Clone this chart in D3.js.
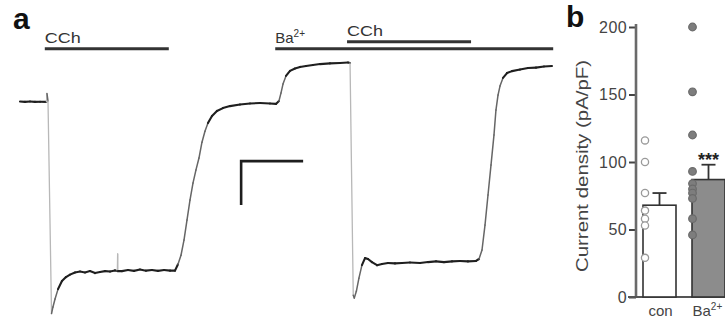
<!DOCTYPE html>
<html>
<head>
<meta charset="utf-8">
<script src="https://cdn.jsdelivr.net/npm/d3@7"></script>
<style>
  body { margin: 0; background: #fff; }
  svg { display: block; font-family: Arial, "Liberation Sans", Helvetica, sans-serif; }
</style>
</head>
<body>
<svg id="chart" width="725" height="322"></svg>
<script>
// panel a: whole-cell current trace, time (s) vs current (pA)
const traceTime = [0, 4.8, 9.7, 14.5, 19.4, 25.6, 26.1, 27.1,
  30.5, 31.9, 33.9, 36.8, 40.6, 44.5, 48.4, 53.2, 58.1, 62.9, 67.7, 72.6, 77.4, 82.3, 87.1, 91.9,
  94.2, 94.5, 94.7, 98.7, 104.5, 110.3, 116.1, 121.9, 127.7, 133.5, 139.4, 145.2, 150,
  152.9, 155.8, 158.7, 161.6, 164.5, 167.4, 170.3, 173.2, 176.1, 179, 181.9, 185.8, 190.6, 196.4,
  203.2, 212.9, 222.6, 232.3, 241.9, 247.7,
  250.6, 252.6, 254.5, 257.4, 261.3, 266.1, 271, 276.8, 283.5, 290.3, 300, 309.7, 317.4, 319.4,
  322.5, 323.5, 325.5, 328, 330.9, 333.9, 336.8, 340.6, 345.5, 350.3, 356.1, 362.9, 369.7, 377.4,
  387.1, 394.8, 402.6, 410.3, 418.1, 425.8, 433.5, 441.3, 444.2,
  447.1, 450, 452.9, 455.8, 458.7, 460.6, 462.6, 464.5, 467.4, 471.3, 476.1, 483.9, 491.6, 499.4,
  507.1, 514.8];
const traceCurrent = [1, -1, 1, -1, 0, -1, 37, 3,
  -963, -933, -897, -852, -815, -797, -786, -776, -772, -776, -770, -779, -774, -770, -772, -767,
  -770, -692, -770, -770, -765, -769, -763, -768, -765, -769, -765, -768, -768,
  -739, -698, -629, -538, -447, -370, -310, -256, -184, -134, -97, -65, -42, -29,
  -20, -13, -8, -6, -8, -10,
  3, 40, 80, 117, 140, 151, 158, 162, 167, 171, 174, 176, 178, 176,
  -880, -892, -862, -802, -743, -711, -715, -729, -743, -738, -733, -735, -733, -731,
  -733, -729, -726, -729, -726, -724, -726, -724, -715,
  -674, -561, -424, -288, -151, -38, 30, 71, 108, 130, 139, 146, 153, 155,
  160, 162];

// drug applications (s)
const drugNames = ["CCh", "Ba", "CCh"];
const drugStart = [24, 247, 316.5];
const drugEnd = [144, 516, 436.5];
const drugRow = [0, 0, 1];

// scale bar: 60 s, 200 pA
const scaleBarTime = 60, scaleBarCurrent = 200;

// panel b: current density (pA/pF)
const groups = ["con", "Ba"];
const groupMean = [68, 87];
const groupSem = [9, 11];
const conPoints = [116, 100, 77, 64, 58, 53, 29];
const baPoints = [200, 152, 120, 93, 84, 80, 77, 73, 58, 46];
const yTicks = [0, 50, 100, 150, 200];

const svg = d3.select("#chart");
svg.append("rect").attr("width", 725).attr("height", 322).attr("fill", "#fff");

// ---------- panel a ----------
const x = d3.scaleLinear().domain([0, 520]).range([20, 20 + 520 * 62 / 60]);
const y = d3.scaleLinear().domain([0, -200]).range([101.7, 145.7]);

svg.append("text").attr("x", 13).attr("y", 28.5)
  .attr("font-size", 30).attr("font-weight", "bold").attr("fill", "#111").text("a");

const trace = traceTime.map((t, i) => [x(t), y(traceCurrent[i])]);
const ga = svg.append("g").attr("stroke-linecap", "round").attr("stroke-linejoin", "round");
for (let i = 1; i < trace.length; i++) {
  const [x0, y0] = trace[i - 1], [x1, y1] = trace[i];
  const slope = Math.abs(y1 - y0) / Math.max(Math.abs(x1 - x0), 0.01);
  let col = "#1f1f1f", w = 2.1;
  if (slope > 15) { col = "#b8b8b8"; w = 1.3; }
  else if (slope > 2.5) { col = "#666"; w = 1.5; }
  ga.append("line").attr("x1", x0).attr("y1", y0).attr("x2", x1).attr("y2", y1)
    .attr("stroke", col).attr("stroke-width", w);
}

// drug bars
const rowY = [48.7, 41.7];
drugNames.forEach((name, i) => {
  svg.append("line")
    .attr("x1", x(drugStart[i])).attr("x2", x(drugEnd[i]))
    .attr("y1", rowY[drugRow[i]]).attr("y2", rowY[drugRow[i]])
    .attr("stroke", "#333").attr("stroke-width", 3);
  const t = svg.append("text")
    .attr("x", x(drugStart[i]))
    .attr("y", rowY[drugRow[i]] - 5.5)
    .attr("font-size", 15).attr("fill", "#333");
  if (name === "Ba") {
    t.append("tspan").text("Ba");
    t.append("tspan").attr("dy", -6).attr("font-size", 10).text("2+");
  } else {
    t.attr("textLength", 36).attr("lengthAdjust", "spacingAndGlyphs").text(name);
  }
});

// scale bar
const sbT = 214, sbI = -270;
svg.append("path")
  .attr("d", `M${x(sbT + scaleBarTime)},${y(sbI)}H${x(sbT)}V${y(sbI - scaleBarCurrent)}`)
  .attr("fill", "none").attr("stroke", "#1e1e1e").attr("stroke-width", 2.6);

// ---------- panel b ----------
svg.append("text").attr("x", 566).attr("y", 26.5)
  .attr("font-size", 30).attr("font-weight", "bold").attr("fill", "#111").text("b");

const yb = d3.scaleLinear().domain([0, 200]).range([297, 27]);
const xb = d3.scaleBand().domain(groups).range([643, 725]).paddingInner(16 / 49).paddingOuter(0);

const axis = svg.append("g").attr("transform", "translate(636,0)")
  .call(d3.axisLeft(yb).tickValues(yTicks).tickSize(7).tickPadding(2).tickSizeOuter(0));
axis.select(".domain").remove();
axis.selectAll(".tick line").attr("stroke", "#444").attr("stroke-width", 2);
axis.selectAll(".tick text").attr("font-size", 16).attr("fill", "#444")
  .attr("font-family", "Arial, 'Liberation Sans', sans-serif").attr("letter-spacing", 0.4);

svg.append("line").attr("x1", 636).attr("x2", 636).attr("y1", yb(200) - 3).attr("y2", yb(0) + 1)
  .attr("stroke", "#6a6a6a").attr("stroke-width", 2.6);
svg.append("line").attr("x1", 628).attr("x2", 725).attr("y1", yb(0)).attr("y2", yb(0))
  .attr("stroke", "#555").attr("stroke-width", 2.2);

svg.append("text")
  .attr("transform", `translate(588,${(yb(0) + yb(200)) / 2 + 4}) rotate(-90)`)
  .attr("text-anchor", "middle").attr("font-size", 16).attr("fill", "#444")
  .attr("textLength", 212).attr("lengthAdjust", "spacingAndGlyphs")
  .text("Current density (pA/pF)");

const barFill = ["#ffffff", "#8c8c8c"];
groups.forEach((g, i) => {
  const bx = xb(g), bw = xb.bandwidth(), cx = bx + bw / 2;
  // error bar
  svg.append("line").attr("x1", cx).attr("x2", cx)
    .attr("y1", yb(groupMean[i])).attr("y2", yb(groupMean[i] + groupSem[i]))
    .attr("stroke", "#333").attr("stroke-width", 1.8);
  svg.append("line").attr("x1", cx - 7).attr("x2", cx + 7)
    .attr("y1", yb(groupMean[i] + groupSem[i])).attr("y2", yb(groupMean[i] + groupSem[i]))
    .attr("stroke", "#333").attr("stroke-width", 1.8);
  svg.append("rect")
    .attr("x", bx).attr("width", bw)
    .attr("y", yb(groupMean[i])).attr("height", yb(0) - yb(groupMean[i]))
    .attr("fill", barFill[i]).attr("stroke", "#333").attr("stroke-width", 1.6);
});

svg.selectAll(".con").data(conPoints).enter().append("circle")
  .attr("cx", xb("con") + 2).attr("cy", d => yb(d)).attr("r", 3.6)
  .attr("fill", "#fff").attr("stroke", "#9a9a9a").attr("stroke-width", 1.3);
svg.selectAll(".ba").data(baPoints).enter().append("circle")
  .attr("cx", xb("Ba") + 0.5).attr("cy", d => yb(d)).attr("r", 3.8)
  .attr("fill", "#7d7d7d").attr("stroke", "#6a6a6a").attr("stroke-width", 1.2);

// significance
svg.append("text").attr("x", xb("Ba") + xb.bandwidth() / 2).attr("y", 166)
  .attr("text-anchor", "middle").attr("font-size", 18).attr("font-weight", "bold")
  .attr("fill", "#222").text("***");

// category labels
svg.append("text").attr("x", xb("con") + xb.bandwidth() / 2 + 1).attr("y", 316)
  .attr("text-anchor", "middle").attr("font-size", 15).attr("fill", "#444").text("con");
const bl = svg.append("text").attr("x", xb("Ba") + 0.5).attr("y", 316)
  .attr("font-size", 15).attr("fill", "#444");
bl.append("tspan").text("Ba");
bl.append("tspan").attr("dy", -6).attr("font-size", 10).text("2+");
</script>
</body>
</html>
